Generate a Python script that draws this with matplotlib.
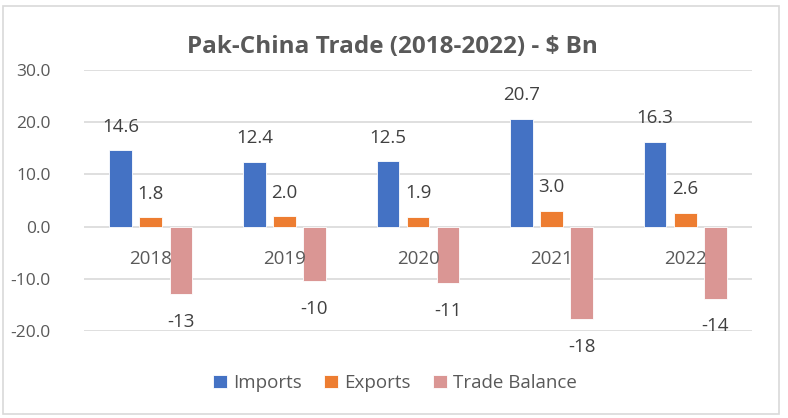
import numpy as np
import matplotlib.pyplot as plt
from matplotlib.patches import FancyBboxPatch

years = ['2018', '2019', '2020', '2021', '2022']
imports = [14.6, 12.4, 12.5, 20.7, 16.3]
exports = [1.8, 2.0, 1.9, 3.0, 2.6]
balance = [-12.9, -10.4, -10.8, -17.7, -13.8]

plt.rcParams['font.family'] = ['Open Sans', 'DejaVu Sans']

fig = plt.figure(figsize=(7.88, 4.18), dpi=100)
ax = fig.add_axes([84/788, 1 - 331/418, (752-84)/788, (331-70)/418])

# outer chart border
fig.patches.append(FancyBboxPatch((0.004, 0.01), 0.985, 0.975, boxstyle='square,pad=0',
                                  transform=fig.transFigure, fill=False,
                                  edgecolor='#d9d9d9', linewidth=1.2))

x = np.arange(len(years))
w = 0.17
off = 0.225
cols = ['#4472c4', '#ed7d31', '#da9694']
series = [(imports, 'Imports'), (exports, 'Exports'), (balance, 'Trade Balance')]

for i, (vals, name) in enumerate(series):
    xs = x + (i - 1) * off
    bars = ax.bar(xs, vals, w, color=cols[i], edgecolor='white', linewidth=0.6,
                  label=name, zorder=3)
    for xx, v in zip(xs, vals):
        if name == 'Trade Balance':
            ax.annotate('%d' % round(v), (xx, v), xytext=(0, -20), textcoords='offset points',
                        ha='center', va='center', fontsize=13.5, color='#404040')
        else:
            ax.annotate('%.1f' % v, (xx, v), xytext=(0, 17), textcoords='offset points',
                        ha='center', va='center', fontsize=13.5, color='#404040')

for xx, yr in zip(x, years):
    ax.text(xx, -6.2, yr, ha='center', va='center', fontsize=13.5, color='#595959', zorder=4)

ax.set_xlim(-0.5, 4.5)
ax.set_ylim(-20, 30)
ax.set_yticks([-20, -10, 0, 10, 20, 30])
ax.set_yticklabels(['%.1f' % t for t in [-20, -10, 0, 10, 20, 30]], fontsize=12.5, color='#595959')
ax.set_xticks([])
ax.tick_params(axis='y', length=0, pad=24)
ax.grid(axis='y', color='#d9d9d9', linewidth=1.2, zorder=0)
for s in ax.spines.values():
    s.set_visible(False)

fig.text(392/788, 1 - 47/418, 'Pak-China Trade (2018-2022) - $ Bn', ha='center', va='center',
         fontsize=17.5, fontweight='bold', color='#595959')

fig.legend(loc='center', bbox_to_anchor=(395/788, 1 - 383/418), ncol=3, frameon=False,
           fontsize=13.5, labelcolor='#595959', handlelength=0.75, handleheight=0.75,
           handletextpad=0.3, columnspacing=1.2)

fig.savefig('out.png', dpi=100)
